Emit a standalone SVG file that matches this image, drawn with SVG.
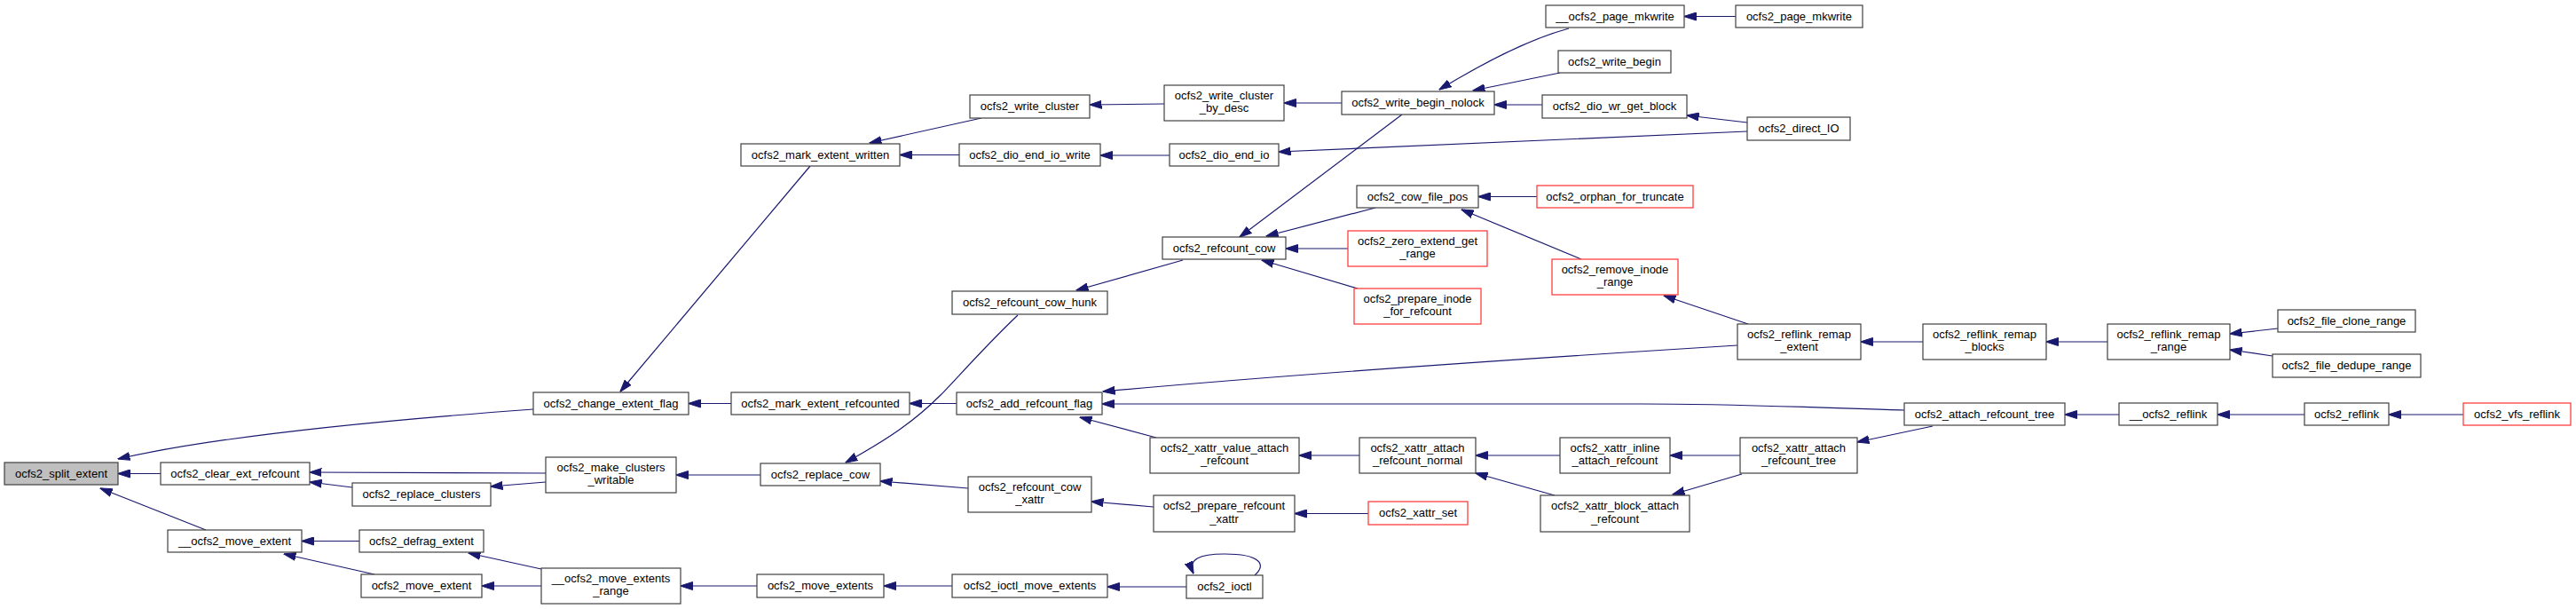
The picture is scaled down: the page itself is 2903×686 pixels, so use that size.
<svg xmlns="http://www.w3.org/2000/svg" width="2903" height="686" viewBox="0 0 2903 686">
<style>
.n rect{fill:#fff;stroke:#404040;stroke-width:1.2}
.n.root rect{fill:#bfbfbf}
.n.red rect{stroke:#ff3030}
.n text{font-family:"Liberation Sans",Arial,sans-serif;font-size:13px;fill:#000;text-anchor:middle}
.e path{fill:none;stroke:#191970;stroke-width:1.2;marker-end:url(#ah)}
</style>
<defs>
<marker id="ah" markerWidth="14" markerHeight="10" refX="13.5" refY="5" orient="auto" markerUnits="userSpaceOnUse" viewBox="0 0 14 10"><path d="M0,0.5 L14,5 L0,9.5 z" fill="#191970" stroke="#191970" stroke-width="1"/></marker>
</defs>
<rect width="2903" height="686" fill="#fff"/>
<g id="edges" class="e">
<path d="M601,461 C450,472 250,490 133,517"/>
<path d="M181,533.5 L133,533.5"/>
<path d="M232,597 L113,550"/>
<path d="M615,533 L349,532"/>
<path d="M397,549 L349,543"/>
<path d="M615,543 L553,548"/>
<path d="M857,535 L762,535"/>
<path d="M824,454.5 L776,454.5"/>
<path d="M913,187 L699,441"/>
<path d="M1106,133 L980,161"/>
<path d="M1081,174.5 L1014,174.5"/>
<path d="M1312,117 L1228,118"/>
<path d="M1318,175 L1240,175"/>
<path d="M1512,116 L1447,116"/>
<path d="M1969,148 L1441,171"/>
<path d="M1768,32 C1720,45 1670,72 1622,101"/>
<path d="M1758,82 L1660,102"/>
<path d="M1738,118 L1684,118"/>
<path d="M1956,18.5 L1898,18.5"/>
<path d="M1969,138 L1901,130"/>
<path d="M1580,129 L1397,267"/>
<path d="M1550,234 L1427,266"/>
<path d="M1519,280 L1449,280"/>
<path d="M1530,325 L1422,293"/>
<path d="M1732,221.5 L1666,221.5"/>
<path d="M1782,292 L1647,236"/>
<path d="M1970,365 L1875,333"/>
<path d="M1333,293 L1213,327"/>
<path d="M1147,355 C1110,390 1075,430 1060,445 C1030,475 1000,495 953,521"/>
<path d="M1078,454.5 L1025,454.5"/>
<path d="M1958,389 C1700,405 1450,422 1243,441"/>
<path d="M2146,462 C2050,459 1950,455 1850,455 L1242,455"/>
<path d="M1303,493 L1217,470"/>
<path d="M1091,550 L992,542"/>
<path d="M1300,571 L1230,565"/>
<path d="M1532,513 L1464,513"/>
<path d="M1542,578.5 L1459,578.5"/>
<path d="M1758,513 L1663,513"/>
<path d="M1752,558 L1663,533"/>
<path d="M1961,513 L1882,513"/>
<path d="M1963,534 L1885,557"/>
<path d="M2178,480 L2093,498"/>
<path d="M2167,385 L2097,385"/>
<path d="M2375,385 L2306,385"/>
<path d="M2567,370 L2513,376"/>
<path d="M2561,401 L2513,394"/>
<path d="M2388,467 L2327,467"/>
<path d="M2597,467 L2499,467"/>
<path d="M2776,467 L2692,467"/>
<path d="M405,609.5 L340,609.5"/>
<path d="M422,647 L320,624"/>
<path d="M610,641 L528,623"/>
<path d="M610,660 L543,660"/>
<path d="M853,660 L767,660"/>
<path d="M1073,660 L996,660"/>
<path d="M1337,661 L1248,661"/>
<path d="M1414,648 C1428,636 1420,624 1380,624 C1352,624 1338,630 1345,646"/>
</g>
<g id="n0" class="n root"><rect x="5" y="521" width="128" height="25"/><text x="69" y="537.5">ocfs2_split_extent</text></g>
<g id="n1" class="n"><rect x="601" y="442" width="175" height="25"/><text x="688.5" y="458.5">ocfs2_change_extent_flag</text></g>
<g id="n2" class="n"><rect x="181" y="521" width="168" height="25"/><text x="265" y="537.5">ocfs2_clear_ext_refcount</text></g>
<g id="n3" class="n"><rect x="397" y="544" width="156" height="26"/><text x="475" y="561">ocfs2_replace_clusters</text></g>
<g id="n4" class="n"><rect x="189" y="597" width="151" height="25"/><text x="264.5" y="613.5">__ocfs2_move_extent</text></g>
<g id="n5" class="n"><rect x="405" y="597" width="140" height="25"/><text x="475" y="613.5">ocfs2_defrag_extent</text></g>
<g id="n6" class="n"><rect x="407" y="647" width="136" height="26"/><text x="475" y="664">ocfs2_move_extent</text></g>
<g id="n7" class="n"><rect x="835" y="162" width="179" height="25"/><text x="924.5" y="178.5">ocfs2_mark_extent_written</text></g>
<g id="n8" class="n"><rect x="824" y="442" width="201" height="25"/><text x="924.5" y="458.5">ocfs2_mark_extent_refcounted</text></g>
<g id="n9" class="n"><rect x="615" y="515" width="147" height="40"/><text x="688.5" y="530.5">ocfs2_make_clusters</text><text x="688.5" y="545">_writable</text></g>
<g id="n10" class="n"><rect x="857" y="522" width="135" height="25"/><text x="924.5" y="538.5">ocfs2_replace_cow</text></g>
<g id="n11" class="n"><rect x="610" y="640" width="157" height="40"/><text x="688.5" y="655.5">__ocfs2_move_extents</text><text x="688.5" y="670">_range</text></g>
<g id="n12" class="n"><rect x="853" y="647" width="143" height="26"/><text x="924.5" y="664">ocfs2_move_extents</text></g>
<g id="n13" class="n"><rect x="1093" y="107" width="135" height="26"/><text x="1160.5" y="124">ocfs2_write_cluster</text></g>
<g id="n14" class="n"><rect x="1081" y="162" width="159" height="25"/><text x="1160.5" y="178.5">ocfs2_dio_end_io_write</text></g>
<g id="n15" class="n"><rect x="1312" y="96" width="135" height="40"/><text x="1379.5" y="111.5">ocfs2_write_cluster</text><text x="1379.5" y="126">_by_desc</text></g>
<g id="n16" class="n"><rect x="1318" y="162" width="123" height="25"/><text x="1379.5" y="178.5">ocfs2_dio_end_io</text></g>
<g id="n17" class="n"><rect x="1310" y="267" width="139" height="25"/><text x="1379.5" y="283.5">ocfs2_refcount_cow</text></g>
<g id="n18" class="n"><rect x="1073" y="328" width="175" height="26"/><text x="1160.5" y="345">ocfs2_refcount_cow_hunk</text></g>
<g id="n19" class="n"><rect x="1078" y="442" width="164" height="25"/><text x="1160" y="458.5">ocfs2_add_refcount_flag</text></g>
<g id="n20" class="n"><rect x="1296" y="493" width="168" height="40"/><text x="1380" y="508.5">ocfs2_xattr_value_attach</text><text x="1380" y="523">_refcount</text></g>
<g id="n21" class="n"><rect x="1091" y="537" width="139" height="40"/><text x="1160.5" y="552.5">ocfs2_refcount_cow</text><text x="1160.5" y="567">_xattr</text></g>
<g id="n22" class="n"><rect x="1300" y="558" width="159" height="41"/><text x="1379.5" y="574">ocfs2_prepare_refcount</text><text x="1379.5" y="588.5">_xattr</text></g>
<g id="n23" class="n"><rect x="1073" y="647" width="175" height="26"/><text x="1160.5" y="664">ocfs2_ioctl_move_extents</text></g>
<g id="n24" class="n"><rect x="1337" y="648" width="86" height="26"/><text x="1380" y="665">ocfs2_ioctl</text></g>
<g id="n25" class="n"><rect x="1512" y="103" width="172" height="26"/><text x="1598" y="120">ocfs2_write_begin_nolock</text></g>
<g id="n26" class="n"><rect x="1742" y="6" width="156" height="25"/><text x="1820" y="22.5">__ocfs2_page_mkwrite</text></g>
<g id="n27" class="n"><rect x="1756" y="57" width="127" height="25"/><text x="1819.5" y="73.5">ocfs2_write_begin</text></g>
<g id="n28" class="n"><rect x="1738" y="107" width="163" height="26"/><text x="1819.5" y="124">ocfs2_dio_wr_get_block</text></g>
<g id="n29" class="n"><rect x="1529" y="209" width="137" height="25"/><text x="1597.5" y="225.5">ocfs2_cow_file_pos</text></g>
<g id="n30" class="n red"><rect x="1732" y="209" width="176" height="25"/><text x="1820" y="225.5">ocfs2_orphan_for_truncate</text></g>
<g id="n31" class="n red"><rect x="1519" y="260" width="157" height="40"/><text x="1597.5" y="275.5">ocfs2_zero_extend_get</text><text x="1597.5" y="290">_range</text></g>
<g id="n32" class="n red"><rect x="1526" y="325" width="143" height="40"/><text x="1597.5" y="340.5">ocfs2_prepare_inode</text><text x="1597.5" y="355">_for_refcount</text></g>
<g id="n33" class="n red"><rect x="1749" y="292" width="142" height="40"/><text x="1820" y="307.5">ocfs2_remove_inode</text><text x="1820" y="322">_range</text></g>
<g id="n34" class="n"><rect x="1532" y="493" width="131" height="40"/><text x="1597.5" y="508.5">ocfs2_xattr_attach</text><text x="1597.5" y="523">_refcount_normal</text></g>
<g id="n35" class="n red"><rect x="1542" y="565" width="112" height="26"/><text x="1598" y="582">ocfs2_xattr_set</text></g>
<g id="n36" class="n"><rect x="1758" y="493" width="124" height="40"/><text x="1820" y="508.5">ocfs2_xattr_inline</text><text x="1820" y="523">_attach_refcount</text></g>
<g id="n37" class="n"><rect x="1736" y="558" width="168" height="41"/><text x="1820" y="574">ocfs2_xattr_block_attach</text><text x="1820" y="588.5">_refcount</text></g>
<g id="n38" class="n"><rect x="1956" y="6" width="143" height="25"/><text x="2027.5" y="22.5">ocfs2_page_mkwrite</text></g>
<g id="n39" class="n"><rect x="1969" y="132" width="116" height="26"/><text x="2027" y="149">ocfs2_direct_IO</text></g>
<g id="n40" class="n"><rect x="1958" y="365" width="139" height="40"/><text x="2027.5" y="380.5">ocfs2_reflink_remap</text><text x="2027.5" y="395">_extent</text></g>
<g id="n41" class="n"><rect x="2167" y="365" width="139" height="40"/><text x="2236.5" y="380.5">ocfs2_reflink_remap</text><text x="2236.5" y="395">_blocks</text></g>
<g id="n42" class="n"><rect x="2375" y="365" width="138" height="40"/><text x="2444" y="380.5">ocfs2_reflink_remap</text><text x="2444" y="395">_range</text></g>
<g id="n43" class="n"><rect x="2146" y="454" width="181" height="25"/><text x="2236.5" y="470.5">ocfs2_attach_refcount_tree</text></g>
<g id="n44" class="n"><rect x="2388" y="454" width="111" height="25"/><text x="2443.5" y="470.5">__ocfs2_reflink</text></g>
<g id="n45" class="n"><rect x="1961" y="493" width="132" height="40"/><text x="2027" y="508.5">ocfs2_xattr_attach</text><text x="2027" y="523">_refcount_tree</text></g>
<g id="n46" class="n"><rect x="2567" y="349" width="155" height="25"/><text x="2644.5" y="365.5">ocfs2_file_clone_range</text></g>
<g id="n47" class="n"><rect x="2561" y="399" width="167" height="26"/><text x="2644.5" y="416">ocfs2_file_dedupe_range</text></g>
<g id="n48" class="n"><rect x="2597" y="454" width="95" height="25"/><text x="2644.5" y="470.5">ocfs2_reflink</text></g>
<g id="n49" class="n red"><rect x="2776" y="454" width="121" height="25"/><text x="2836.5" y="470.5">ocfs2_vfs_reflink</text></g>
</svg>
